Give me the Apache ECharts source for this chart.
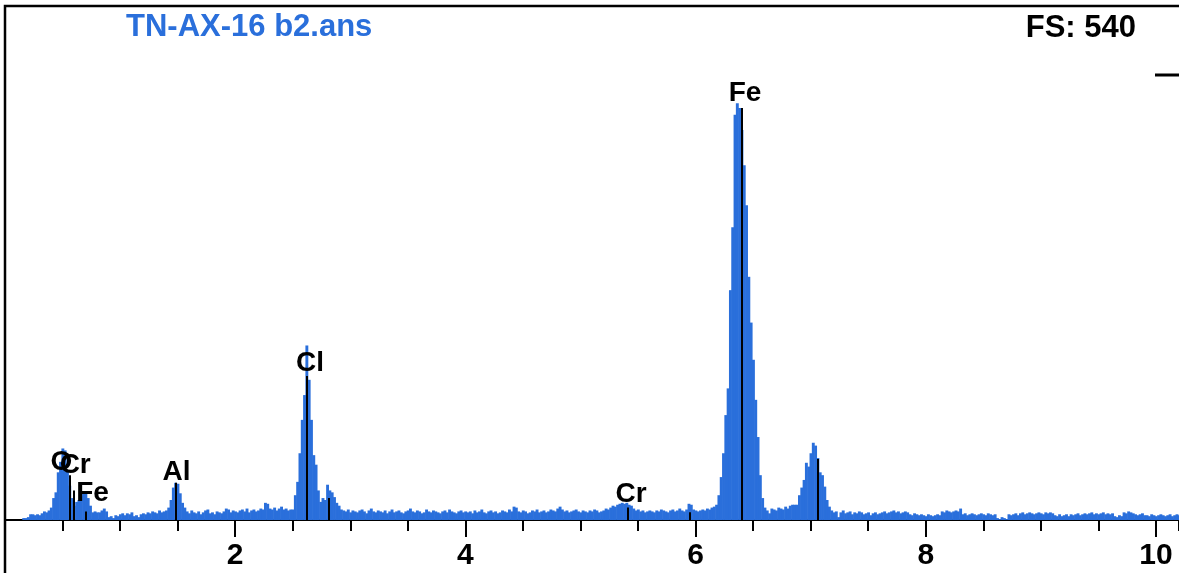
<!DOCTYPE html>
<html>
<head>
<meta charset="utf-8">
<script src="https://cdn.jsdelivr.net/npm/echarts@6/dist/echarts.min.js"></script>
<style>
html,body{margin:0;padding:0;background:#fff;}
#chart{width:1179px;height:573px;}
</style>
</head>
<body>
<div id="chart"></div>
<script>
// ---------- DATA ----------
const TITLE = 'TN-AX-16 b2.ans';
const FULL_SCALE = 540;
const KEV_PER_CHANNEL = 0.02;
const xTickLabels = [2, 4, 6, 8, 10];

// spectrum counts, channel by channel (20 eV channels), in segments
const segLowStart = 0;   // 0 - 1.64 keV (O, Cr L, Fe L, Al)
const segLow = [0,0,0,0,0,0,0,0,
  2,2,3,6,6,5,6,5,7,9,8,10,13,
  23,29,50,61,75,73,52,36,23,15,19,21,25,28,29,23,15,
  8,9,8,8,10,12,9,3,4,2,5,4,6,7,5,7,6,8,4,5,3,6,7,6,8,7,9,8,7,10,8,9,10,
  13,21,34,39,38,28,18,13,9,7,10,8];
const segClStart = 83;   // 1.66 - 2.92 keV (Cl)
const segCl = [7,9,6,8,10, 11,7,8,6,9, 8,7,9,12,11, 8,10,9,8,10, 11,9,12,8,10, 11,9,10,12,11, 18,17,12,11,13, 10,12,14,11,12, 10,11,
  11,26,40,70,105, 131,183,147,105,68, 58,31,19,23,21, 37,31,29,24,18, 15,11];
const segMidStart = 147; // 2.94 - 6.16 keV (background, Cr K)
const segMid = [10,9,11,8,10,9,8,10,11,9,7,10,12,9,8,10,
  9,8,10,7,9, 11,8,9,10,8, 7,9,10,12,9, 8,10,9,7,8, 11,9,8,10,9, 8,7,9,10,8, 11,9,8,7,9, 10,8,9,
  8,9,7,10,8, 9,11,8,7,9, 10,8,9,7,8, 10,9,8,11,9, 14,13,9,8,10, 9,7,8,10,9, 11,8,9,10,8, 9,11,10,9,12,
  14,11,9,10,8, 9,10,11,9,8, 10,9,8,10,9, 11,10,8,9,10, 12,11,
  13,15,14,16,17, 18,17,18,16,15, 12,10,11,
  9,10,8,9,10, 9,8,10,9,11, 10,9,8,10,11, 9,10,12,10,9, 11,17,16,11,10, 9,10,11,10,12, 11,13,14];
const segFeStart = 309; // 6.18 - 7.20 keV (Fe K)
const segFe = [16,26,45,70,110, 138,241,307,425,437, 432,409,372,330,255, 207,168,126,87,47, 23,13,
  10,7,12,11,10,13,12,11,14,12,15,16,
  16,16,26,34,42, 60,56,70,81,78, 65,50,47,35,21, 14,10,8];
const segHighStart = 361; // 7.22 - 10.20 keV
const segHigh = [9,3,8,10,7, 8,9,6,8,7, 9,8,6,7,8, 5,7,8,6,7,
  8,9,7,8,9,10,8,9,7,8,9,8,
  6,5,7,6,5,6,
  5,4,6,5,4,5,6,5,
  9,8,10,9,8,9,10,9,12,
  6,7,5,6,7,6,5,6,7,6,5,7,6,5,6,
  2,1,3,2,1,
  6,5,6,7,5,
  7,8,6,7,8,7,6,7,8,7,6,
  8,7,8,7,
  5,4,6,4,5,6,4,
  6,5,6,7,5,6,
  7,6,7,8,6,7,6,7,8,6,7,6,7,
  4,3,5,4,
  8,7,9,8,7,
  6,5,6,7,5,
  5,4,6,5,4,5,6,5,4,5,6,4,5,6,5];

// element marker lines (KLM markers): energy keV, height in counts
const markerEnergies = [0.56, 0.60, 0.705, 1.486, 2.622, 2.815, 5.414, 5.947, 6.40, 7.058];
const markerHeights  = [47,   31,   9,     39,    151,   23,    13,    8,     432,  64];

// element labels: name, energy keV, count level of label centre
const labelNames    = ['O',   'Cr',  'Fe',  'Al',  'Cl',  'Cr',  'Fe'];
const labelEnergies = [0.49,  0.61,  0.76,  1.49,  2.65,  5.44,  6.43];
const labelHeights  = [61,    57,    28,    50,    164,   27,    447];

// ---------- BUILD ----------
const segments = [[segLowStart, segLow], [segClStart, segCl], [segMidStart, segMid], [segFeStart, segFe], [segHighStart, segHigh]];
const spectrum = [];
segments.forEach(([start, vals]) => {
  vals.forEach((v, i) => {
    const ch = start + i;
    spectrum.push([+(ch * KEV_PER_CHANNEL).toFixed(3), v]);
  });
});

const BLUE = '#2a6fdb';
const FONT = "'Liberation Sans', Arial, sans-serif";

const markLineData = markerEnergies.map((e, i) => [
  { coord: [e, 0] },
  { coord: [e, markerHeights[i]] }
]);

const labelData = labelNames.map((n, i) => ({ name: n, value: [labelEnergies[i], labelHeights[i]] }));

const chart = echarts.init(document.getElementById('chart'), null, { renderer: 'canvas' });
chart.setOption({
  animation: false,
  backgroundColor: '#ffffff',
  title: [
    { text: TITLE, left: 126, top: 12, padding: 0,
      textStyle: { color: BLUE, fontFamily: FONT, fontWeight: 'bold', fontSize: 31, lineHeight: 30 } },
    { text: 'FS: ' + FULL_SCALE, right: 43, top: 13, padding: 0,
      textStyle: { color: '#000', fontFamily: FONT, fontWeight: 'bold', fontSize: 31, lineHeight: 30 } }
  ],
  grid: { left: 5, right: -1, top: 5, bottom: 53, containLabel: false },
  xAxis: [
    {
      type: 'value', min: 0, max: 10.2, interval: 2, position: 'bottom',
      axisLine: { show: true, onZero: false, lineStyle: { color: '#000', width: 2 } },
      axisTick: { show: true, inside: false, length: 17, lineStyle: { color: '#000', width: 2 } },
      axisLabel: {
        show: true, margin: 21, color: '#000', fontFamily: FONT, fontWeight: 'bold', fontSize: 30, lineHeight: 30,
        showMinLabel: false, showMaxLabel: false,
        formatter: v => (xTickLabels.indexOf(v) >= 0 ? String(v) : '')
      },
      splitLine: { show: false }
    },
    {
      type: 'value', min: 0, max: 10.2, interval: 0.5, position: 'bottom',
      axisLine: { show: false },
      axisTick: { show: true, length: 11, lineStyle: { color: '#000', width: 2 } },
      axisLabel: { show: false },
      splitLine: { show: false }
    }
  ],
  yAxis: { type: 'value', min: 0, max: FULL_SCALE, show: false },
  graphic: [
    { type: 'polyline', z: 100, shape: { points: [[5, 573], [5, 6], [1179, 6]] },
      style: { stroke: '#000', lineWidth: 2.5, fill: null } },
    { type: 'line', z: 100, shape: { x1: 1155, y1: 75, x2: 1179, y2: 75 },
      style: { stroke: '#000', lineWidth: 3 } }
  ],
  series: [
    {
      type: 'custom', name: 'spectrum', xAxisIndex: 0, z: 2,
      data: spectrum,
      encode: { x: 0, y: 1 },
      renderItem: function (params, api) {
        const e = api.value(0), c = api.value(1);
        const half = KEV_PER_CHANNEL / 2;
        const p0 = api.coord([e - half, c]);
        const p1 = api.coord([e + half, 0]);
        return {
          type: 'rect',
          shape: { x: p0[0], y: p0[1], width: p1[0] - p0[0] + 0.6, height: p1[1] - p0[1] },
          style: { fill: BLUE, stroke: null }
        };
      },
      markLine: {
        silent: true, symbol: ['none', 'none'], animation: false,
        label: { show: false },
        lineStyle: { color: '#000', width: 2, type: 'solid' },
        emphasis: { disabled: true },
        data: markLineData
      }
    },
    {
      type: 'scatter', name: 'labels', xAxisIndex: 0, symbol: 'circle', symbolSize: 1,
      itemStyle: { color: 'rgba(0,0,0,0)', opacity: 1 },
      z: 5,
      label: {
        show: true, position: 'inside', formatter: p => p.name, opacity: 1,
        color: '#000', fontFamily: FONT, fontWeight: 'bold', fontSize: 28, lineHeight: 28
      },
      labelLayout: { hideOverlap: false },
      data: labelData
    }
  ]
});
</script>
</body>
</html>
